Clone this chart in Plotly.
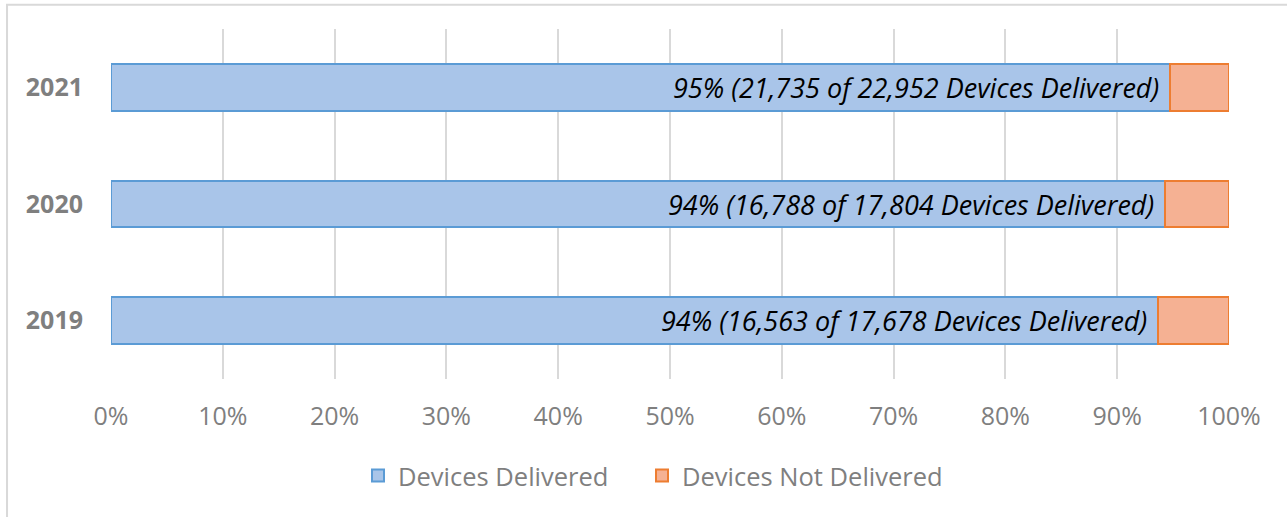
import plotly.graph_objects as go

years = ["2019", "2020", "2021"]
delivered = [16563, 16788, 21735]
total = [17678, 17804, 22952]

pct_del = [d / t * 100 for d, t in zip(delivered, total)]
pct_not = [100 - p for p in pct_del]
labels = [f"{round(p)}% ({d:,} of {t:,} Devices Delivered)" for p, d, t in zip(pct_del, delivered, total)]

fig = go.Figure()
fig.add_trace(go.Bar(
    y=years, x=pct_del, orientation="h", name="Devices Delivered",
    marker=dict(color="#a9c5e9", line=dict(color="#5b9bd5", width=2)),
    width=0.4, hoverinfo="skip", legend="legend",
))
fig.add_trace(go.Bar(
    y=years, x=pct_not, orientation="h", name="Devices Not Delivered",
    marker=dict(color="#f5b193", line=dict(color="#ed7d31", width=2)),
    width=0.4, hoverinfo="skip", legend="legend2",
))

for i, (x, t) in enumerate(zip(pct_del, labels)):
    fig.add_annotation(x=x, y=i, xref="x", yref="y", text="<i>" + t + "</i>", showarrow=False,
                       xanchor="right", yanchor="middle", xshift=-9,
                       font=dict(family="Open Sans", size=27, color="#000000"))

legend_font = dict(family="Open Sans", size=25.5, color="#7f7f7f")
leg_y = (379 - 476) / 350

fig.update_layout(
    barmode="stack",
    width=1287, height=517,
    margin=dict(l=111, r=58, t=29, b=138, autoexpand=False),
    paper_bgcolor="white", plot_bgcolor="white",
    showlegend=True,
    legend=dict(orientation="h", x=(358 - 111) / 1118, xanchor="left",
                y=leg_y, yanchor="middle", font=legend_font),
    legend2=dict(orientation="h", x=(642 - 111) / 1118, xanchor="left",
                 y=leg_y, yanchor="middle", font=legend_font),
    xaxis=dict(range=[0, 100], dtick=10, ticksuffix="%", showgrid=True,
               gridcolor="#d9d9d9", gridwidth=1.5, zeroline=False, automargin=False,
               showline=False, ticks="outside", ticklen=15, tickcolor="rgba(0,0,0,0)",
               tickfont=dict(family="Open Sans", size=25, color="#7f7f7f"),
               fixedrange=True),
    yaxis=dict(type="category", categoryorder="array", categoryarray=years, range=[-0.5, 2.5],
               showgrid=False, zeroline=False, showline=False, automargin=False,
               ticks="outside", ticklen=22, tickcolor="rgba(0,0,0,0)",
               tickfont=dict(family="Open Sans", size=25, color="#7f7f7f", weight="bold"),
               fixedrange=True),
    shapes=[dict(type="rect", xref="paper", yref="paper",
                 x0=-0.093, x1=1.2, y0=-0.6, y1=1.069,
                 line=dict(color="#d9d9d9", width=2), fillcolor="rgba(0,0,0,0)", layer="below")],
)

fig.write_html("out.html", config={"displayModeBar": False},
               post_script="document.body.style.margin='0';document.body.style.overflow='hidden';")
